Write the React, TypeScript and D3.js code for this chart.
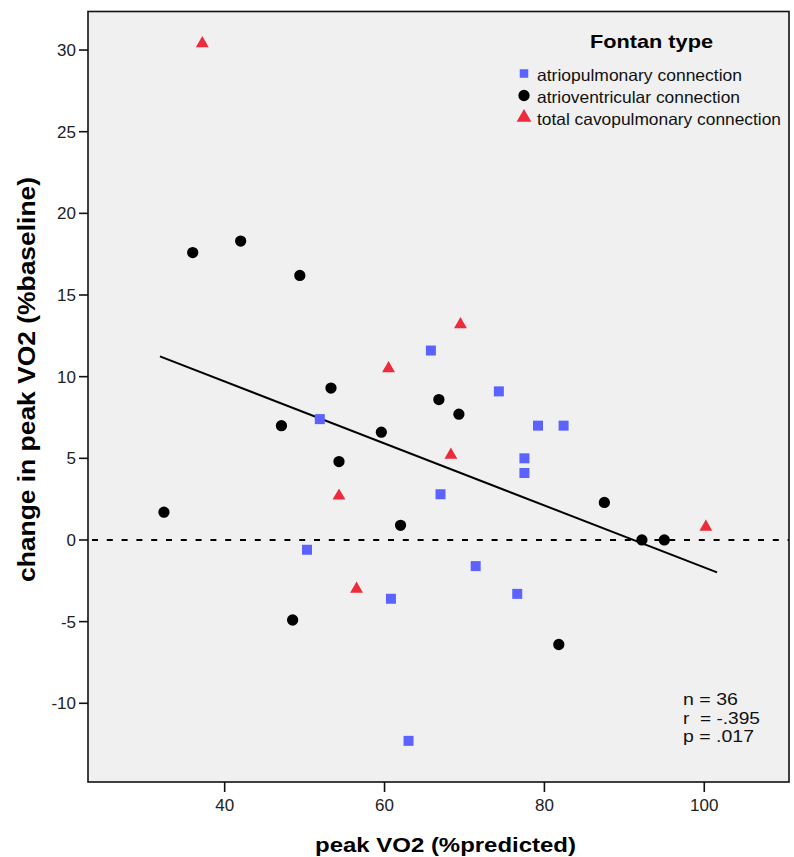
import React from "react";
import * as d3 from "d3";

// atriopulmonary connection (blue squares)
const apX = [65.8, 74.3, 79.2, 82.4, 77.5, 77.5, 67.0, 71.4, 76.6, 51.9, 50.3, 60.8, 63.0];
const apY = [11.6, 9.1, 7.0, 7.0, 5.0, 4.1, 2.8, -1.6, -3.3, 7.4, -0.6, -3.6, -12.3];
// atrioventricular connection (black circles)
const avX = [36.0, 42.0, 49.4, 53.3, 66.8, 69.3, 47.1, 59.6, 54.3, 32.4, 62.0, 87.5, 92.2, 95.0, 48.5, 81.8];
const avY = [17.6, 18.3, 16.2, 9.3, 8.6, 7.7, 7.0, 6.6, 4.8, 1.7, 0.9, 2.3, 0.0, 0.0, -4.9, -6.4];
// total cavopulmonary connection (red triangles)
const tcX = [37.2, 69.5, 60.5, 68.3, 54.3, 56.5, 100.2];
const tcY = [30.4, 13.2, 10.5, 5.2, 2.7, -3.0, 0.8];

const xTicks = [40, 60, 80, 100];
const yTicks = [-10, -5, 0, 5, 10, 15, 20, 25, 30];
const fitRange = [31.9, 101.6];
const stats = ["n = 36", "r  = -.395", "p = .017"];
const statsLen = [55, 77, 71];

const legendNames = ["atriopulmonary connection", "atrioventricular connection", "total cavopulmonary connection"];
const legendLen = [205, 203, 244];

const W = 794, H = 857;
const frame = { left: 88, top: 11.5, right: 789, bottom: 782 };
const FONT = "'Liberation Sans', Arial, sans-serif";
const BLUE = "#5c62ff";
const RED = "#ee2b3b";

const sqr = d3.symbol(d3.symbolSquare, 100)();
const circ = d3.symbol(d3.symbolCircle, 100)();
const tri = d3.symbol(d3.symbolTriangle, 72)();

export default function App() {
  const x = d3.scaleLinear().domain([22.9, 110.6]).range([frame.left, frame.right]);
  const y = d3.scaleLinear().domain([-14.82, 32.36]).range([frame.bottom, frame.top]);

  // least squares fit over all cases
  const allX = [...apX, ...avX, ...tcX];
  const allY = [...apY, ...avY, ...tcY];
  const mx = d3.mean(allX)!, my = d3.mean(allY)!;
  const sxy = d3.sum(allX, (v, i) => (v - mx) * (allY[i] - my));
  const sxx = d3.sum(allX, (v) => (v - mx) * (v - mx));
  const slope = sxy / sxx;
  const icpt = my - slope * mx;
  const fitLine = d3.line<number>().x((d) => x(d)).y((d) => y(icpt + slope * d))(fitRange);

  const pts = (xs: number[], ys: number[], path: string, fill: string) =>
    xs.map((v, i) => (
      <path key={i} d={path} fill={fill} transform={`translate(${x(v)},${y(ys[i])})`} />
    ));

  const legendSyms = [
    { d: sqr, fill: BLUE, s: 0.85 },
    { d: circ, fill: "#000", s: 1 },
    { d: tri, fill: RED, s: 1.15 },
  ];

  return (
    <>
      <style>{`body{margin:0}`}</style>
      <svg width={W} height={H} style={{ display: "block", fontFamily: FONT }}>
        <rect width={W} height={H} fill="#fff" />
        <rect
          x={frame.left}
          y={frame.top}
          width={frame.right - frame.left}
          height={frame.bottom - frame.top}
          fill="#f0f0f0"
        />
        {/* zero reference */}
        <line
          x1={frame.left + 4}
          x2={frame.right}
          y1={y(0)}
          y2={y(0)}
          stroke="#000"
          strokeWidth={2}
          strokeDasharray="6,8.8"
        />
        <path d={fitLine!} stroke="#000" strokeWidth={2} fill="none" />

        {pts(apX, apY, sqr, BLUE)}
        {pts(avX, avY, circ, "#000")}
        {pts(tcX, tcY, tri, RED)}

        <rect
          x={frame.left}
          y={frame.top}
          width={frame.right - frame.left}
          height={frame.bottom - frame.top}
          fill="none"
          stroke="#111"
          strokeWidth={1.6}
        />

        {/* y axis */}
        {yTicks.map((t) => (
          <g key={t} transform={`translate(0,${y(t)})`}>
            <line x1={frame.left - 9} x2={frame.left} stroke="#111" strokeWidth={1.6} />
            <text x={76} dy="0.36em" textAnchor="end" fontSize={17} fill="#222">
              {t}
            </text>
          </g>
        ))}
        {/* x axis */}
        {xTicks.map((t) => (
          <g key={t} transform={`translate(${x(t)},0)`}>
            <line y1={frame.bottom} y2={frame.bottom + 10} stroke="#111" strokeWidth={1.6} />
            <text y={811} textAnchor="middle" fontSize={17} fill="#222">
              {t}
            </text>
          </g>
        ))}

        <text
          x={445.5}
          y={852}
          textAnchor="middle"
          fontSize={20.5}
          fontWeight="bold"
          textLength={261}
          lengthAdjust="spacingAndGlyphs"
        >
          peak VO2 (%predicted)
        </text>
        <text
          transform={`translate(34.5,379.5) rotate(-90)`}
          textAnchor="middle"
          fontSize={24}
          fontWeight="bold"
          textLength={405}
          lengthAdjust="spacingAndGlyphs"
        >
          change in peak VO2 (%baseline)
        </text>

        {/* legend */}
        <text
          x={651.5}
          y={48}
          textAnchor="middle"
          fontSize={19}
          fontWeight="bold"
          textLength={123}
          lengthAdjust="spacingAndGlyphs"
        >
          Fontan type
        </text>
        {legendNames.map((name, i) => (
          <g key={name} transform={`translate(0,${75 + i * 22})`}>
            <path
              d={legendSyms[i].d}
              fill={legendSyms[i].fill}
              transform={`translate(524,${-1.5}) scale(${legendSyms[i].s})`}
            />
            <text
              x={537}
              y={6}
              fontSize={16.5}
              fill="#111"
              textLength={legendLen[i]}
              lengthAdjust="spacingAndGlyphs"
            >
              {name}
            </text>
          </g>
        ))}

        {/* stats */}
        {stats.map((s, i) => (
          <text
            key={s}
            x={683}
            y={705 + i * 18.5}
            fontSize={17}
            fill="#111"
            style={{ whiteSpace: "pre" }}
            textLength={statsLen[i]}
            lengthAdjust="spacingAndGlyphs"
          >
            {s}
          </text>
        ))}
      </svg>
    </>
  );
}
